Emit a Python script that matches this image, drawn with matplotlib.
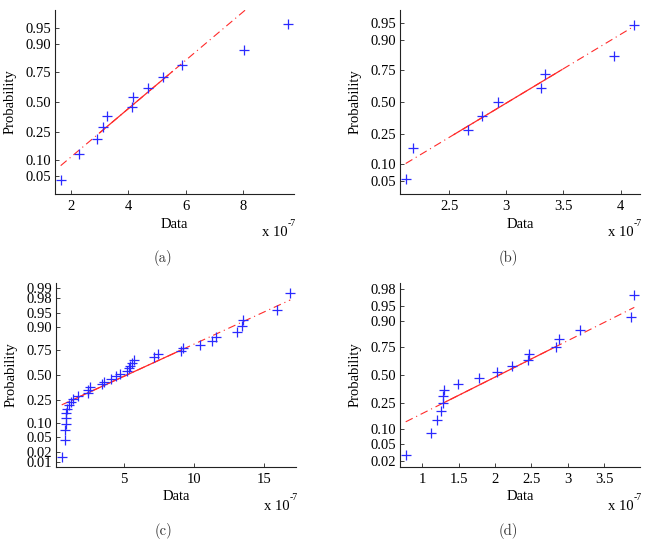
import numpy as np
import matplotlib
matplotlib.use('Agg')
import matplotlib.pyplot as plt
from matplotlib.ticker import FixedLocator, FuncFormatter, NullLocator
from matplotlib.transforms import offset_copy
from statistics import NormalDist

# ---- data (values in units of 1e-7) ----
data_a = [1.65, 2.27, 2.93, 3.11, 3.26, 4.12, 4.16, 4.69, 5.21, 5.86, 8.02, 9.57]
data_b = [2.12, 2.18, 2.665, 2.785, 2.93, 3.30, 3.335, 3.945, 4.12]
data_c = [0.55, 0.78, 0.80, 0.83, 0.85, 0.88, 0.95, 1.05, 1.20, 1.35, 1.70, 2.40,
          2.45, 2.55, 3.45, 3.55, 4.05, 4.40, 4.70, 5.25, 5.35, 5.45, 5.55, 5.70,
          7.15, 7.45, 9.07, 9.20, 10.45, 11.30, 11.60, 13.06, 13.45, 13.55, 15.95, 16.90]
data_d = [0.775, 1.125, 1.20, 1.265, 1.285, 1.29, 1.30, 1.49, 1.78, 2.03, 2.23,
          2.45, 2.46, 2.83, 2.88, 3.16, 3.86, 3.91]

xticks_a = [2, 4, 6, 8]
xticks_b = [2.5, 3, 3.5, 4]
xticks_c = [5, 10, 15]
xticks_d = [1, 1.5, 2, 2.5, 3, 3.5]

prob_ticks = [0.01, 0.02, 0.05, 0.10, 0.25, 0.50, 0.75, 0.90, 0.95, 0.98, 0.99]
captions = ['(a)', '(b)', '(c)', '(d)']
xlabel_text = 'Data'
ylabel_text = 'Probability'
scale_text = 'x 10'
scale_exp = '-7'

# ---- normal probability scale ----
ND = NormalDist()
_ppf = np.vectorize(ND.inv_cdf, otypes=[float])
_cdf = np.vectorize(ND.cdf, otypes=[float])


def fwd(p):
    p = np.clip(np.asarray(p, dtype=float), 1e-12, 1 - 1e-12)
    return _ppf(p)


def inv(z):
    return _cdf(np.clip(np.asarray(z, dtype=float), -30, 30))


W, H = 646, 548
fig = plt.figure(figsize=(W / 100, H / 100), dpi=100)

SERIF = ['Liberation Serif', 'DejaVu Serif']
CAPFONT = ['cmr10', 'DejaVu Serif']
FS = 10.5


def rect(left, top, w, h):
    return [left / W, 1 - (top + h) / H, w / W, h / H]


rects = [rect(55, 10, 239, 184), rect(400, 10, 240, 184),
         rect(56, 283, 240, 184), rect(400, 283, 240, 184)]
datasets = [data_a, data_b, data_c, data_d]
xtick_sets = [xticks_a, xticks_b, xticks_c, xticks_d]

for r, data, xt, cap in zip(rects, datasets, xtick_sets, captions):
    ax = fig.add_axes(r)
    x = np.sort(np.asarray(data, dtype=float))
    n = len(x)
    p = (np.arange(1, n + 1) - 0.5) / n
    ax.set_yscale('function', functions=(fwd, inv))

    ax.plot(x, p, '+', color='#2a2aff', ms=7, mew=0.9, zorder=3)

    q1, q3 = np.percentile(x, [25, 75], method='hazen')
    z1, z3 = ND.inv_cdf(0.25), ND.inv_cdf(0.75)
    slope = (z3 - z1) / (q3 - q1)
    xe = np.array([x[0], x[-1]])
    ze = z1 + slope * (xe - q1)
    ax.plot(xe, inv(ze), color='#ff2a2a', lw=0.8,
            linestyle=(0, (7, 3.5, 1, 3.5)), zorder=2)
    ax.plot([q1, q3], [0.25, 0.75], color='#ff2a2a', lw=0.9, zorder=2)

    ylo, yhi = 0.25 / n, 1 - 0.25 / n
    ax.set_ylim(ylo, yhi)
    dx = 0.025 * (x[-1] - x[0])
    ax.set_xlim(x[0] - dx, x[-1] + dx)

    yt = [t for t in prob_ticks if ylo <= t <= yhi]
    ax.yaxis.set_major_locator(FixedLocator(yt))
    ax.yaxis.set_minor_locator(NullLocator())
    ax.yaxis.set_major_formatter(FuncFormatter(lambda v, pos: '%.2f' % v))
    ax.xaxis.set_major_locator(FixedLocator(xt))
    ax.xaxis.set_minor_locator(NullLocator())
    ax.xaxis.set_major_formatter(FuncFormatter(lambda v, pos: '%g' % v))

    for s in ['top', 'right']:
        ax.spines[s].set_visible(False)
    for s in ['left', 'bottom']:
        ax.spines[s].set_linewidth(0.8)
        ax.spines[s].set_color('#222222')
    ax.tick_params(direction='in', length=3, width=0.6, colors='#222222',
                   labelcolor='black', labelsize=FS)
    ax.tick_params(axis='x', pad=4)
    ax.tick_params(axis='y', pad=3)
    for lab in ax.get_xticklabels() + ax.get_yticklabels():
        lab.set_family(SERIF)

    bw = r[2] * W
    bh = r[3] * H
    ax.set_xlabel(xlabel_text, family=SERIF, fontsize=FS, va='center')
    ax.xaxis.set_label_coords(0.5, -30 / bh)
    ax.set_ylabel(ylabel_text, family=SERIF, fontsize=FS, va='center')
    ax.yaxis.set_label_coords(-45 / bw, 0.5)

    t1 = offset_copy(ax.transAxes, fig=fig, x=-6, y=-39, units='dots')
    ax.text(1.0, 0.0, scale_text, transform=t1, ha='right', va='center',
            family=SERIF, fontsize=FS, clip_on=False)
    t2 = offset_copy(ax.transAxes, fig=fig, x=-6, y=-30, units='dots')
    ax.text(1.0, 0.0, scale_exp, transform=t2, ha='left', va='center',
            family=SERIF, fontsize=7, clip_on=False)

    cx = (r[0] * W + bw / 2 - 12) / W
    top_px = H - (r[1] + r[3]) * H
    cap_y = top_px + 248
    fig.text(cx, 1 - cap_y / H, cap, ha='center', va='center',
             family=CAPFONT, fontsize=10.5, color='#333333')

fig.savefig('out.png', dpi=100)
